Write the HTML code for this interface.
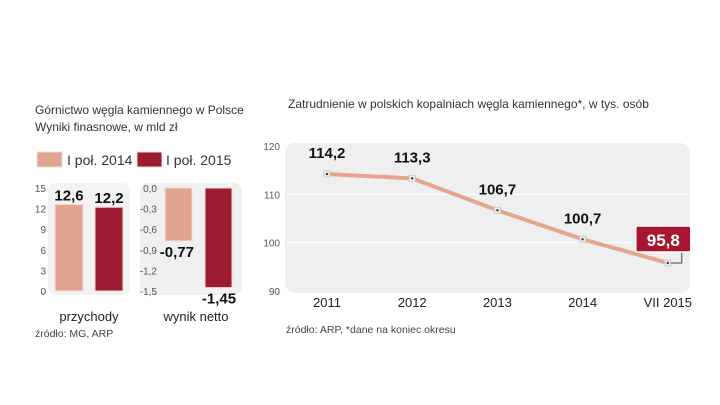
<!DOCTYPE html>
<html><head><meta charset="utf-8"><style>
body{margin:0;background:#fff;}
svg{display:block;font-family:"Liberation Sans",sans-serif;}
</style></head><body>
<svg id="c" width="720" height="405" viewBox="0 0 720 405">
<text x="35" y="114" font-size="12" fill="#333">Górnictwo węgla kamiennego w Polsce</text>
<text x="35" y="131" font-size="12" fill="#333">Wyniki finasnowe, w mld zł</text>
<g>
<rect x="37" y="152" width="25" height="15" fill="#e0a58e" stroke="#f3dcd2"/>
<text x="67" y="165" font-size="14" fill="#333">I poł. 2014</text>
<rect x="137" y="152" width="25" height="15" fill="#9b1b30" stroke="#f3dcd2"/>
<text x="166" y="165" font-size="14" fill="#333">I poł. 2015</text>
</g>
<rect x="48" y="183" width="82" height="112" rx="8" fill="#f3f3f3"/>
<rect x="140" y="183" width="102" height="112" rx="8" fill="#f0f0f0"/>
<rect x="285" y="143" width="405" height="150" rx="10" fill="#efefef"/>
<g id="g"></g>
<text x="35" y="337" font-size="10.5" fill="#444">źródło: MG, ARP</text>
<text x="288" y="108" font-size="12" fill="#333">Zatrudnienie w polskich kopalniach węgla kamiennego*, w tys. osób</text>
<text x="286" y="333" font-size="10.5" fill="#444">źródło: ARP, *dane na koniec okresu</text>
</svg>
<script>
const revCats=["I poł. 2014","I poł. 2015"];
const revVals=[12.6,12.2];
const revLabels=["12,6","12,2"];
const revTicks=[0,3,6,9,12,15];
const netVals=[-0.77,-1.45];
const netLabels=["-0,77","-1,45"];
const netTicks=[0,-0.3,-0.6,-0.9,-1.2,-1.5];
const netTickLabels=["0,0","-0,3","-0,6","-0,9","-1,2","-1,5"];
const years=["2011","2012","2013","2014","VII 2015"];
const empVals=[114.2,113.3,106.7,100.7,95.8];
const empLabels=["114,2","113,3","106,7","100,7","95,8"];
const empTicks=[90,100,110,120];
const colors=["#e0a58e","#9b1b30"];
const NS="http://www.w3.org/2000/svg",g=document.getElementById("g");
function mk(t,a,txt){const e=document.createElementNS(NS,t);for(const k in a)e.setAttribute(k,a[k]);if(txt!=null)e.textContent=txt;g.appendChild(e);return e;}
// revenue
const ry=v=>291-v*(103/15);
revTicks.forEach(t=>{const e=mk("text",{x:46,y:ry(t)+4,"font-size":10,fill:"#555","text-anchor":"end"},t);

});
const rx=[55,95];
revVals.forEach((v,i)=>{const r=mk("rect",{x:rx[i],y:ry(v),width:28,height:ry(0)-ry(v),fill:colors[i],stroke:"#f3dcd2"});


const t=mk("text",{x:rx[i]+14,y:ry(v)-4,"font-size":15,"font-weight":"bold",fill:"#111","text-anchor":"middle"},revLabels[i]);

});
const l1=mk("text",{x:89,y:321,"font-size":13,fill:"#222","text-anchor":"middle"},"przychody");


// net
const ny=v=>188-v*(103/1.5);
netTicks.forEach((t,i)=>{const e=mk("text",{x:157,y:ny(t)+4,"font-size":10,fill:"#555","text-anchor":"end"},netTickLabels[i]);

});
const nx=[165,205];
netVals.forEach((v,i)=>{const r=mk("rect",{x:nx[i],y:ny(0),width:27,height:ny(v)-ny(0),fill:colors[i],stroke:"#f3dcd2"});


const a=i==0?{x:194,y:ny(v)+16}:{x:219,y:ny(v)+16};
const t=mk("text",{x:a.x,y:a.y,"font-size":15,"font-weight":"bold",fill:"#111","text-anchor":i==0?"end":"middle"},netLabels[i]);

});
const l2=mk("text",{x:196,y:321,"font-size":13,fill:"#222","text-anchor":"middle"},"wynik netto");


// line
const ly=v=>291-(v-90)*(145/30);
const lx=i=>327+i*85.2;
empTicks.forEach(t=>{const e=mk("text",{x:280,y:ly(t)+4,"font-size":10,fill:"#555","text-anchor":"end"},t);


if(t>90&&t<120){const gl=mk("line",{x1:287,x2:688,y1:ly(t),y2:ly(t),stroke:"#fff","stroke-width":1});

}});
const p=mk("polyline",{points:empVals.map((v,i)=>lx(i)+","+ly(v)).join(" "),fill:"none",stroke:"#e6a68c","stroke-width":4,"stroke-linejoin":"round"});


empVals.forEach((v,i)=>{
const x=lx(i),y=ly(v);
const d=mk("rect",{x:x-3,y:y-3,width:6,height:6,fill:"#eee",stroke:"#ccc"});


const c=mk("circle",{cx:x,cy:y,r:1.2,fill:"#333"});


const yl=mk("text",{x:x,y:307,"font-size":13,fill:"#222","text-anchor":"middle"},years[i]);


if(i<empVals.length-1){
const t=mk("text",{x:x,y:y-16,"font-size":15,"font-weight":"bold",fill:"#111","text-anchor":"middle"},empLabels[i]);


}else{
const cn=mk("polyline",{points:(x+3)+","+y+" "+(x+14)+","+y+" "+(x+14)+","+(y-11),fill:"none",stroke:"#444","stroke-width":1});


const b=mk("rect",{x:x-32,y:y-37,width:55,height:26,rx:2,fill:"#a8152e",stroke:"#fff","stroke-width":1.5});


const t=mk("text",{x:x-4.5,y:y-17,"font-size":17,"font-weight":"bold",fill:"#fff","text-anchor":"middle"},empLabels[i]);


}});
</script>
</body></html>
